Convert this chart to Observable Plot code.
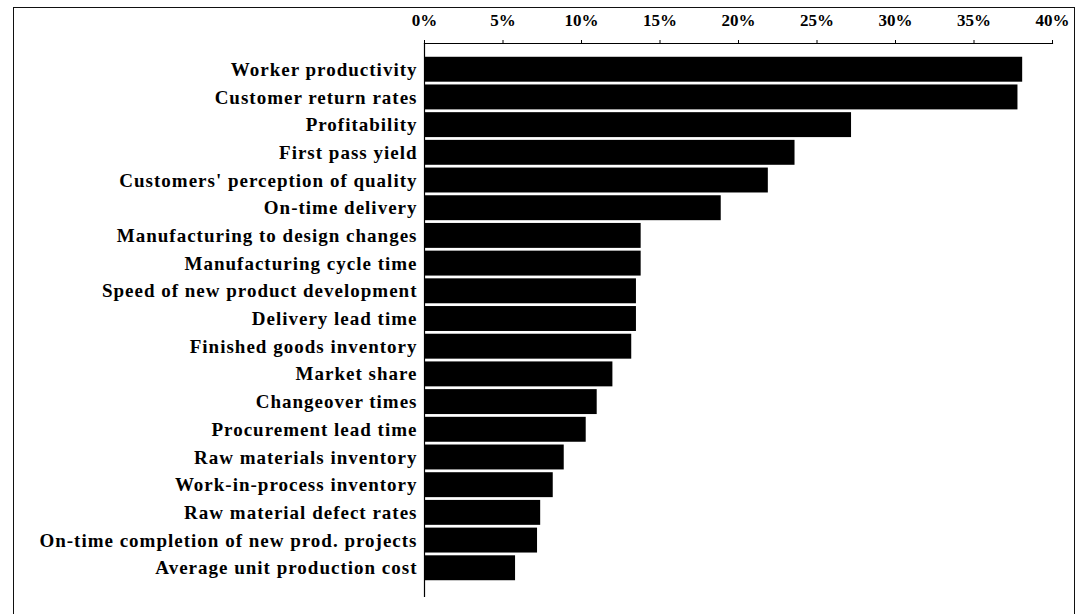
<!DOCTYPE html>
<html>
<head>
<meta charset="utf-8">
<script src="https://cdn.jsdelivr.net/npm/d3@7"></script>
<script src="https://cdn.jsdelivr.net/npm/@observablehq/plot@0.6"></script>
<style>
  html, body { margin: 0; padding: 0; background: #fff; }
  #wrap { position: relative; width: 1080px; height: 614px; overflow: hidden; background: #fff; }
  #border { position: absolute; left: 13px; top: 7px; width: 1062px; height: 700px; border: 1.5px solid #111; box-sizing: border-box; pointer-events: none; }
  #chart { position: absolute; left: 0; top: 0; }
  #chart g[aria-label="y-axis tick label"] text { letter-spacing: 1px; }
</style>
</head>
<body>
<div id="wrap"><div id="chart"></div><div id="border"></div></div>
<script>
const categories = [
  "Worker productivity",
  "Customer return rates",
  "Profitability",
  "First pass yield",
  "Customers' perception of quality",
  "On-time delivery",
  "Manufacturing to design changes",
  "Manufacturing cycle time",
  "Speed of new product development",
  "Delivery lead time",
  "Finished goods inventory",
  "Market share",
  "Changeover times",
  "Procurement lead time",
  "Raw materials inventory",
  "Work-in-process inventory",
  "Raw material defect rates",
  "On-time completion of new prod. projects",
  "Average unit production cost"
];
const values = [38.1, 37.8, 27.2, 23.6, 21.9, 18.9, 13.8, 13.8, 13.5, 13.5, 13.2, 12.0, 11.0, 10.3, 8.9, 8.2, 7.4, 7.2, 5.8];
const xTicks = [0, 5, 10, 15, 20, 25, 30, 35, 40];

const data = categories.map((c, i) => ({category: c, value: values[i]}));

const chart = Plot.plot({
  width: 1080,
  height: 614,
  marginLeft: 424,
  marginRight: 28,
  marginTop: 43,
  marginBottom: 17,
  style: {fontFamily: "'Liberation Serif', 'Times New Roman', serif", fontWeight: "bold", color: "#000", background: "transparent"},
  x: {domain: [0, 40]},
  y: {domain: categories, padding: 0.1, insetTop: 11, insetBottom: 14, round: false},
  marks: [
    Plot.barX(data, {x: "value", y: "category", fill: "#000"}),
    Plot.frame({anchor: "top", stroke: "#000", strokeWidth: 1.2}),
    Plot.ruleX([0], {stroke: "#000", strokeWidth: 1.2}),
    Plot.axisX({anchor: "top", ticks: xTicks, tickFormat: d => d + "%", tickSize: 4, tickPadding: 14, fontSize: 17, label: null}),
    Plot.axisY({tickSize: 0, tickPadding: 7, fontSize: 19, label: null})
  ]
});
document.getElementById("chart").appendChild(chart);
</script>
</body>
</html>
